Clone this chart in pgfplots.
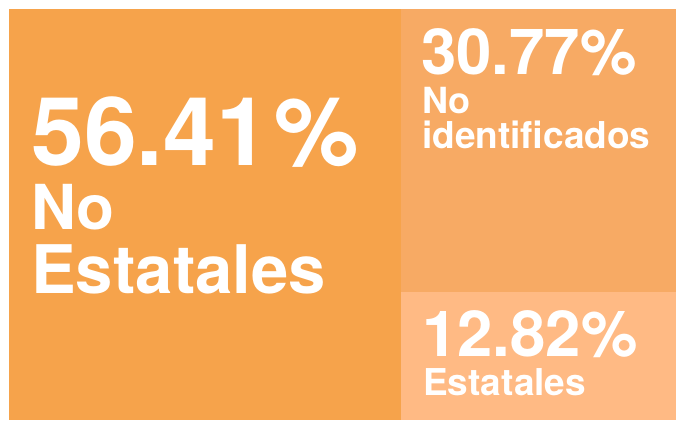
\documentclass[border=0pt]{standalone}
\usepackage{pgfplots}
\pgfplotsset{compat=1.18}
\usepackage{fontspec}
\setmainfont{TeX Gyre Heros}
\definecolor{cA}{HTML}{F6A34B}
\definecolor{cB}{HTML}{F7AA64}
\definecolor{cC}{HTML}{FFBA84}
\begin{document}
\begin{tikzpicture}
\begin{axis}[
  scale only axis, width=676bp, height=421bp,
  xmin=0, xmax=676, ymin=0, ymax=421, y dir=reverse,
  hide axis, clip=false,
]
\addplot[fill=white, draw=none] coordinates {(0,0) (676,0) (676,421) (0,421)} -- cycle;
% treemap tiles: No Estatales 56.41, No identificados 30.77, Estatales 12.82
\addplot[fill=cA, draw=none] coordinates {(9,9) (401,9) (401,420) (9,420)} -- cycle;
\addplot[fill=cB, draw=none] coordinates {(401,9) (676,9) (676,292) (401,292)} -- cycle;
\addplot[fill=cC, draw=none] coordinates {(401,292) (676,292) (676,420) (401,420)} -- cycle;
\node[anchor=base west, inner sep=0pt, text depth=0pt, text=white, font=\bfseries\fontsize{95bp}{95bp}\selectfont] at (axis cs:31,165) {56.41\kern6bp\%};
\node[anchor=base west, inner sep=0pt, text=white, font=\bfseries\fontsize{62bp}{62bp}\selectfont] at (axis cs:31,229) {No};
\node[anchor=base west, inner sep=0pt, text=white, font=\bfseries\fontsize{67bp}{67bp}\selectfont] at (axis cs:31,293) {Estatales};
\node[anchor=base west, inner sep=0pt, text depth=0pt, text=white, font=\bfseries\fontsize{63.5bp}{63.5bp}\selectfont] at (axis cs:421,75) {30.77\%};
\node[anchor=base west, inner sep=0pt, text=white, font=\bfseries\fontsize{36bp}{36bp}\selectfont] at (axis cs:422,113) {No};
\node[anchor=base west, inner sep=0pt, text=white, font=\bfseries\fontsize{37bp}{37bp}\selectfont] at (axis cs:422,148) {identificados};
\node[anchor=base west, inner sep=0pt, text depth=0pt, text=white, font=\bfseries\fontsize{63.5bp}{63.5bp}\selectfont] at (axis cs:422,356) {12.82\%};
\node[anchor=base west, inner sep=0pt, text=white, font=\bfseries\fontsize{37bp}{37bp}\selectfont] at (axis cs:423,395) {Estatales};
\end{axis}
\end{tikzpicture}
\end{document}
